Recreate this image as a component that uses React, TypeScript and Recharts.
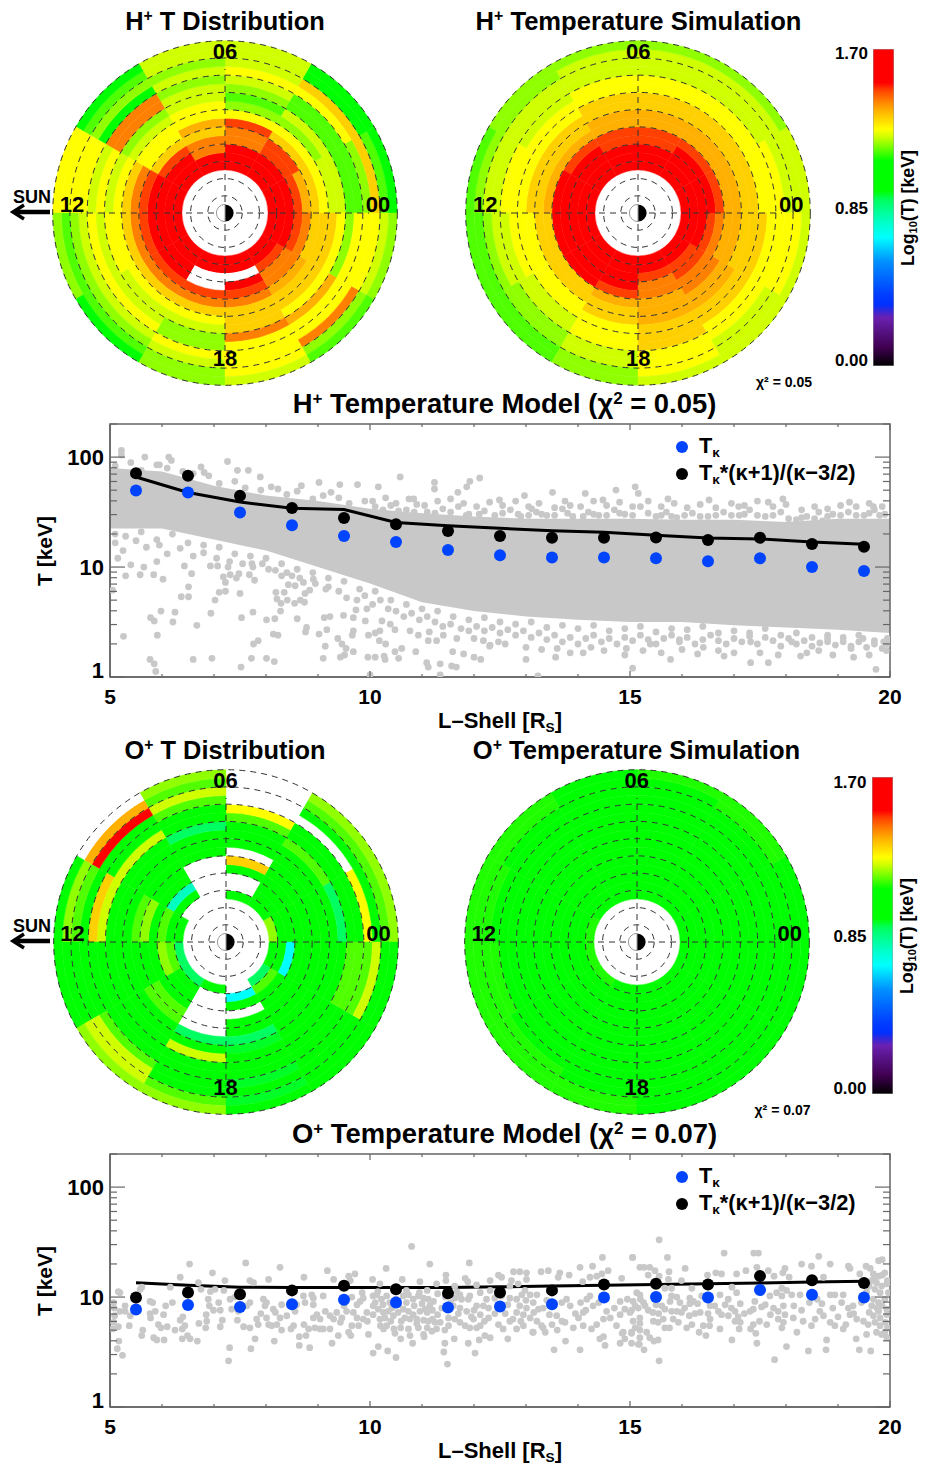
import React from "react";
import { PieChart, Pie, Cell, PolarGrid, ComposedChart, Area, Line, Scatter, XAxis, YAxis, ReferenceArea, BarChart, Bar } from "recharts";

// log10(T) levels
const W = null, C = 0.69, c = 0.78, T = 0.89, t = 0.92, G = 1.0, q = 1.12, g = 1.15, l = 1.19, y = 1.23, Y = 1.27, a = 1.33, o = 1.37, O = 1.42, R = 1.48, r = 1.6;

// one list per 2-hour MLT sector, starting at 00 and running anticlockwise; each list goes L=5 -> L=19
const hDistribution = [
  [r,r,r,R,o,a,Y,y,y,g,g,l,a,g,G],
  [r,r,r,R,R,a,Y,l,y,g,g,Y,a,G,G],
  [r,r,r,O,O,R,Y,l,g,l,y,Y,y,y,y],
  [r,r,O,O,a,o,Y,Y,y,y,l,y,l,y,y],
  [r,r,r,R,a,Y,Y,y,l,O,O,G,l,g,G],
  [r,r,r,r,R,O,a,Y,y,Y,y,Y,Y,Y,Y],
  [r,r,r,r,R,O,a,Y,Y,y,Y,y,l,g,l],
  [r,r,r,r,R,O,a,Y,y,y,Y,y,l,g,G],
  [r,r,W,W,R,O,a,Y,y,l,l,Y,y,l,l],
  [r,r,W,r,R,O,a,a,a,O,Y,Y,Y,Y,y],
  [r,r,R,O,O,o,a,a,Y,o,Y,Y,O,l,g],
  [r,r,r,R,O,a,a,a,Y,l,Y,Y,Y,y,l],
];
const hSimulation = [
  [r,r,r,r,R,o,o,a,a,Y,Y,Y,y,y,y],
  [r,r,r,r,R,o,o,a,a,Y,Y,y,y,y,l],
  [r,r,r,R,R,o,o,a,a,Y,Y,y,y,y,l],
  [r,r,r,R,R,o,o,a,a,Y,Y,y,y,y,l],
  [r,r,r,r,R,o,a,a,Y,Y,y,y,y,l,l],
  [r,r,r,r,r,o,a,a,Y,Y,Y,y,y,l,g],
  [r,r,r,r,r,a,a,Y,Y,Y,y,y,l,g,g],
  [r,r,r,r,r,a,a,Y,Y,y,y,l,l,g,g],
  [r,r,r,r,R,o,a,a,Y,Y,Y,y,y,l,l],
  [r,r,R,O,O,o,o,o,a,a,a,Y,Y,Y,y],
  [r,r,R,R,O,O,o,o,a,a,Y,Y,y,y,y],
  [r,r,r,R,O,o,o,a,a,a,Y,Y,Y,Y,y],
];
const oDistribution = [
  [l,G,G,G,G,G,G,G,T,G,G,Y,G,g,l],
  [G,G,G,G,G,G,G,G,g,G,G,W,G,g,l],
  [G,W,W,G,a,W,G,G,G,g,Y,W,W,W,W],
  [W,W,W,W,W,G,G,G,T,G,G,g,y,g,l],
  [W,G,c,G,G,G,G,G,G,y,G,G,r,o,W],
  [G,G,g,G,l,g,G,G,G,y,a,G,g,l,G],
  [T,g,l,G,G,G,G,G,G,G,G,G,G,G,G],
  [T,G,G,G,g,g,G,G,G,G,G,g,y,y,l],
  [G,W,W,W,W,W,T,G,y,G,G,G,G,g,l],
  [W,C,G,W,G,G,T,t,G,G,G,t,G,t,G],
  [T,g,G,G,G,G,G,G,G,G,G,G,G,G,G],
  [G,G,C,G,G,G,G,G,G,g,g,g,y,G,G],
];
const oSimulation = [
  [G,G,G,G,G,G,G,G,G,G,G,G,G,G,G],
  [G,G,G,G,G,G,G,G,G,G,G,G,G,q,q],
  [G,G,G,G,G,G,G,G,G,G,G,G,G,G,q],
  [G,G,G,G,G,G,G,G,G,G,G,G,G,G,G],
  [G,G,G,G,G,G,G,G,G,G,G,G,G,q,q],
  [q,G,G,G,G,G,G,G,G,G,G,G,q,q,q],
  [q,G,G,G,G,G,G,G,G,G,G,q,q,q,q],
  [q,G,G,G,G,G,G,G,G,G,G,G,q,q,q],
  [G,G,G,G,G,G,G,G,G,G,G,G,G,q,q],
  [G,G,G,G,G,G,G,G,G,G,G,G,G,G,G],
  [G,G,G,G,G,G,G,G,G,G,G,G,G,G,G],
  [G,G,G,G,G,G,G,G,G,G,G,G,G,G,G],
];

const lShells = [5,6,7,8,9,10,11,12,13,14,15,16,17,18,19];
const gridL = [2,4,6,8,10,12,14,16,18,20];
const colorStops: [number,string][] = [[0,"#000000"],[0.1,"#400050"],[0.26,"#6a20b0"],[0.33,"#0030ff"],[0.39,"#0040ff"],[0.56,"#0090ff"],[0.69,"#00ffff"],[0.78,"#00ffc0"],[0.89,"#00ff60"],[0.94,"#00ff00"],[1.1,"#00ff00"],[1.15,"#50ff00"],[1.19,"#90ff00"],[1.23,"#d0ff00"],[1.27,"#ffff00"],[1.33,"#ffd000"],[1.37,"#ffb000"],[1.42,"#ff8000"],[1.48,"#ff4000"],[1.52,"#ff0000"],[1.7,"#ff0000"]];

// scatter clouds, read as [L, log10 T]
const hCloudBandL = [5,6,7,8,9,10,11,12,13,14,15,16,17,18,19,20];
const hCloudBandLow = [1.35,1.35,1.25,1.15,1.0,0.85,0.68,0.6,0.55,0.52,0.5,0.5,0.47,0.45,0.43,0.4];
const hCloudBandHigh = [1.9,1.87,1.74,1.65,1.6,1.53,1.49,1.46,1.44,1.44,1.44,1.43,1.43,1.41,1.44,1.44];
const hUpperFringe = [[5.1,1.92],[5.4,1.95],[5.6,1.88],[5.9,1.93],[6.1,1.9],[6.4,1.87],[6.6,1.85],[6.9,1.83],[7.1,1.76],[7.4,1.78],[7.6,1.72],[7.9,1.7],[8.1,1.73],[8.4,1.66],[8.6,1.69],[8.9,1.62],[9.1,1.65],[9.4,1.63],[9.6,1.58],[9.9,1.6],[10.1,1.55],[10.4,1.56],[10.7,1.52],[10.9,1.57],[11.1,1.5],[11.4,1.53],[11.7,1.55],[11.9,1.48],[12.2,1.51],[12.4,1.47],[12.7,1.52],[12.9,1.46],[13.2,1.5],[13.4,1.47],[13.7,1.53],[13.9,1.46],[14.2,1.5],[14.4,1.47],[14.7,1.52],[14.9,1.48],[15.2,1.55],[15.5,1.46],[15.7,1.5],[15.9,1.45],[16.2,1.49],[16.5,1.46],[16.8,1.5],[17.1,1.47],[17.3,1.52],[17.6,1.46],[17.9,1.5],[18.2,1.43],[18.4,1.46],[18.7,1.42],[18.9,1.48],[19.2,1.5],[19.5,1.47],[19.7,1.52],[19.9,1.48]];
const hUpperSecond = [[10.25,1.52],[10.55,1.51],[10.85,1.5],[11.25,1.49],[11.55,1.5],[11.85,1.47],[12.1,1.48],[12.55,1.49],[12.85,1.48],[13.05,1.47],[13.3,1.48],[13.55,1.47],[13.8,1.49],[14.1,1.46],[14.3,1.48],[14.55,1.47],[14.8,1.49],[15.05,1.47],[15.35,1.49],[15.6,1.47],[15.8,1.46],[16.05,1.47],[16.35,1.46],[16.65,1.47],[16.95,1.47],[17.2,1.48],[17.45,1.47],[17.75,1.47],[18.05,1.44],[18.3,1.45],[18.55,1.44],[18.8,1.46],[19.05,1.47],[19.35,1.47],[19.6,1.49],[19.8,1.47]];
const hUpperScatter = [[10.05,1.6],[10.3,1.63],[10.5,1.58],[10.75,1.62],[11.05,1.56],[11.3,1.6],[11.55,1.62],[11.8,1.58],[12.05,1.55],[12.3,1.59],[12.55,1.56],[12.8,1.6],[13.05,1.55],[13.25,1.58],[13.55,1.54],[13.75,1.6],[14.05,1.55],[14.3,1.6],[14.55,1.56],[14.8,1.59],[15.05,1.55],[15.35,1.6],[15.6,1.55],[15.85,1.58],[16.1,1.54],[16.35,1.57],[16.65,1.54],[16.95,1.58],[17.2,1.56],[17.45,1.6],[17.75,1.55],[18,1.57],[18.3,1.52],[18.55,1.55],[18.8,1.53],[19.05,1.56],[19.35,1.55],[19.6,1.58],[19.85,1.55]];
const hLowerFringe = [[5.1,1.3],[5.3,1.28],[5.6,1.32],[5.9,1.25],[6.2,1.3],[6.5,1.22],[6.8,1.2],[7.1,1.18],[7.4,1.12],[7.7,1.1],[8,1.08],[8.3,1.03],[8.6,0.98],[8.9,0.95],[9.2,0.9],[9.5,0.87],[9.8,0.8],[10.1,0.78],[10.4,0.7],[10.7,0.66],[11,0.62],[11.3,0.6],[11.6,0.55],[11.9,0.52],[12.2,0.54],[12.5,0.5],[12.8,0.48],[13.1,0.5],[13.4,0.45],[13.7,0.47],[14,0.44],[14.3,0.47],[14.6,0.42],[14.9,0.44],[15.2,0.46],[15.5,0.41],[15.8,0.44],[16.1,0.43],[16.4,0.46],[16.7,0.4],[17,0.42],[17.3,0.4],[17.6,0.44],[17.9,0.38],[18.2,0.4],[18.5,0.36],[18.8,0.38],[19.1,0.36],[19.4,0.38],[19.7,0.33],[19.95,0.35]];
const hLowerScatter = [[9.2,0.82],[9.4,0.78],[9.55,0.72],[9.75,0.7],[9.9,0.74],[10.05,0.66],[10.2,0.7],[10.35,0.62],[10.5,0.6],[10.65,0.55],[10.8,0.58],[10.95,0.52],[11.1,0.55],[11.25,0.5],[11.4,0.46],[11.55,0.48],[11.75,0.44],[11.9,0.42],[12.05,0.46],[12.2,0.42],[12.35,0.45],[12.5,0.4],[12.65,0.43],[12.8,0.38],[12.95,0.42],[13.1,0.36],[13.25,0.4],[13.4,0.34],[13.55,0.38],[13.7,0.32],[13.85,0.36],[14,0.3],[14.15,0.35],[14.3,0.38],[14.45,0.32],[14.6,0.35],[14.75,0.3],[14.9,0.36],[15.05,0.33],[15.2,0.38],[15.35,0.34],[15.5,0.3],[15.65,0.35],[15.8,0.38],[15.95,0.34],[16.1,0.36],[16.25,0.3],[16.4,0.34],[16.55,0.38],[16.7,0.33],[16.85,0.3],[17,0.35],[17.15,0.32],[17.3,0.37],[17.45,0.3],[17.6,0.36],[17.75,0.33],[17.9,0.28],[18.05,0.35],[18.2,0.3],[18.35,0.33],[18.5,0.28],[18.65,0.31],[18.8,0.35],[18.95,0.29],[19.1,0.32],[19.25,0.28],[19.4,0.32],[19.55,0.27],[19.7,0.3],[19.85,0.26],[19.95,0.3],[12.3,0.28],[12.6,0.3],[13,0.27],[13.3,0.25],[13.6,0.26],[14.1,0.22],[14.5,0.24],[14.9,0.2],[15.25,0.24],[15.6,0.22],[16,0.25],[16.3,0.21],[16.7,0.24],[17,0.22],[17.5,0.22],[17.85,0.2],[18.4,0.22],[18.9,0.2],[19.3,0.18],[19.6,0.2]];
const hLeftScatter = [[5.1,1.22],[5.25,1.15],[5.5,1.24],[5.7,1.18],[5.95,1.2],[6.1,1.12],[6.35,1.17],[6.6,1.1],[6.8,1.13],[7.05,1.08],[7.3,1.05],[7.55,1.03],[7.75,1.0],[8.05,0.98],[8.4,0.95],[8.65,0.9],[8.95,0.85],[9.15,0.8],[5.15,1.08],[5.4,1.02],[5.65,1.0],[5.9,1.05]];
const hOutliersLow = [[5.3,0.92],[5.58,0.93],[5.84,0.93],[6.02,0.89],[6.43,1.01],[6.57,0.94],[6.51,0.82],[6.37,0.73],[6.51,0.73],[5.05,0.79],[5.98,0.6],[6.25,0.59],[5.78,0.54],[5.85,0.51],[6.21,0.5],[6.67,0.47],[5.26,0.37],[5.91,0.38],[5.77,0.16],[5.85,0.12],[5.88,0.05],[6.6,0.16],[6.96,0.17],[7.52,0.09],[7.72,0.17],[8.01,0.17],[8.16,0.14],[6.94,0.58],[7.02,0.7],[7.1,0.77],[7.22,0.78],[7.22,0.86],[7.18,0.91],[7.31,0.93],[7.43,0.9],[7.48,0.94],[7.68,0.93],[7.78,0.88],[7.5,0.76],[6.93,1.01],[7.07,1.01],[7.27,1.0],[7.73,1.03],[7.93,1.03],[7.53,0.54],[7.75,0.59],[8.01,0.52],[8.17,0.53],[8.28,0.6],[8.6,0.53],[7.76,0.3],[7.85,0.33],[8.14,0.39],[8.23,0.38],[8.78,0.45],[8.76,0.41],[9.02,0.39],[9.17,0.43],[8.19,0.77],[8.35,0.77],[8.21,0.71],[8.29,0.67],[8.41,0.7],[8.55,0.67],[8.66,0.7],[8.74,0.68],[8.84,0.79],[8.75,0.76],[8.56,0.83],[8.43,0.84],[8.18,0.97],[8.3,0.92],[8.5,0.92],[8.72,0.86],[8.91,0.89],[9.12,0.54],[9.23,0.55],[9.49,0.56],[9.68,0.54],[9.73,0.61],[9.94,0.62],[9.91,0.51],[10.23,0.51],[10.39,0.48],[10.48,0.43],[10.19,0.42],[10.1,0.4],[9.97,0.38],[9.68,0.42],[9.66,0.38],[9.38,0.35],[9.46,0.3],[9.54,0.26],[9.14,0.28],[9.68,0.23],[9.1,0.17],[9.43,0.18],[9.51,0.2],[9.96,0.18],[10.1,0.18],[10.27,0.19],[10.29,0.16],[10.48,0.23],[10.55,0.17],[10.61,0.26],[10.88,0.23],[10,0.02],[10.18,0.33],[10.3,0.3],[11.09,0.13],[11.12,0.09],[11.35,0.12],[11.57,0.1],[11.66,0.09],[11.8,0.21],[11.59,0.23],[12,0.18],[12.13,0.16],[11.35,0.02],[11.12,0.33],[11.28,0.33],[11.41,0.38],[11.67,0.35],[12,0.35],[12.31,0.29],[12.47,0.32],[12.18,0.33],[10.93,0.38],[10.77,0.42],[11.14,0.41]];
const hOutliersHigh = [[5.22,2.06],[5.22,2.02],[6.13,2.0],[6.18,1.97],[5.67,2.0],[5.95,1.93],[6.75,1.91],[7.26,1.96],[7.45,1.88],[6.81,1.86],[6.52,1.84],[7.66,1.88],[7.89,1.82],[8.23,1.71],[8.68,1.74],[9.02,1.77],[9.42,1.75],[9.76,1.75],[10.16,1.73],[10.58,1.82],[11.24,1.77],[11.69,1.68],[11.92,1.78],[12.11,1.81],[11.86,1.73],[11.24,1.71],[12.49,1.61],[12.97,1.65],[13.51,1.68],[14.14,1.67],[14.73,1.7],[15.1,1.73],[15.16,1.67],[15.73,1.62],[16.52,1.61],[17.66,1.59],[17.94,1.62],[19.22,1.59],[19.68,1.55],[18.63,1.5],[17.09,1.55],[14.48,1.61],[13.85,1.56],[13.11,1.53],[10.84,1.62],[9.25,1.68]];
const hOutliersRight = [[15.05,0.08],[19.73,0.07],[13.23,0.01],[17.66,0.13],[17.32,0.13],[18.28,0.19],[18.63,0.24],[19.93,0.24],[19.25,0.26],[16.81,0.19],[15.78,0.16],[13,0.16],[13.57,0.18],[13.85,0.22],[14.25,0.27],[15.39,0.3],[16.41,0.27],[17.32,0.32],[18.11,0.32],[18.8,0.32],[19.48,0.35],[19.88,0.32],[14.93,0.26],[15.95,0.32]];

const oCloudInner = [[6.35,1.18],[6.97,1.22],[7.21,1.15],[6.53,1.3],[7.61,1.31],[8.27,1.27],[8.05,1.16],[7.69,1.15],[7.76,1.13],[8.73,1.18],[9.18,1.24],[9.3,1.16],[9.59,1.19],[9.71,1.21],[9.62,1.15],[6.7,1.13],[6.16,1.09],[6.93,1.05],[7.02,1.07],[7.19,1.06],[6.75,1.07],[5.16,1.05],[5.19,1.04],[5.61,1.09],[5.58,1.07],[5.77,0.96],[5.82,0.95],[5.29,0.92],[5.07,0.95],[5.08,0.9],[6.07,0.92],[6.03,0.84],[5.87,0.87],[5.77,0.85],[5.78,0.81],[5.39,0.83],[5.19,0.87],[5.29,0.87],[5.09,0.83],[5.07,0.77],[5.05,0.71],[5.16,0.73],[5.37,0.74],[5.63,0.7],[5.61,0.65],[5.93,0.75],[5.98,0.72],[6.1,0.73],[6.25,0.7],[6.39,0.71],[6.44,0.74],[6.35,0.79],[6.4,0.82],[6.71,0.76],[6.86,0.78],[6.85,0.84],[6.84,0.72],[7.16,0.79],[7.12,0.73],[7.45,0.79],[7.57,0.73],[7.69,0.72],[5.84,0.63],[5.9,0.61],[6.04,0.61],[6.39,0.62],[6.49,0.65],[6.54,0.62],[6.68,0.6],[5.17,0.6],[5.14,0.53],[5.24,0.47],[7.3,0.54],[7.71,0.53],[7.79,0.62],[8.16,0.6],[7.28,0.42],[8.64,0.64],[8.77,0.65],[8.64,0.56],[8.84,0.54],[9.27,0.58],[9.39,0.65],[9.59,0.68],[9.63,0.65],[6.89,0.98],[6.91,0.92],[6.99,0.88],[7.12,0.88],[7.09,0.95],[7.31,0.98],[7.34,0.89],[7.47,0.87],[7.69,0.95],[7.63,0.92],[7.95,0.98],[8.01,0.95],[7.98,0.92],[8.14,0.89],[8.18,0.86],[8.27,0.81],[8.4,0.83],[8.3,0.93],[7.82,0.8],[7.9,0.85],[7.85,0.75],[8.01,0.81],[8.05,0.75],[8.11,0.74],[8.21,0.75],[8.48,0.71],[8.53,0.74],[8.73,0.75],[8.82,0.71],[8.94,0.72],[9.04,0.71],[9.1,0.71],[9.23,0.71],[8.91,0.81],[8.98,0.84],[9.04,0.8],[9.14,0.87],[9.23,0.83],[9.36,0.86],[9.46,0.81],[9.3,0.8],[9.43,0.77],[8.91,0.93],[8.91,0.99],[8.88,1.02],[9.1,1.01],[8.72,1.01],[8.75,0.95],[8.59,0.93],[8.56,0.87],[9.65,0.74],[9.68,0.86],[9.75,0.93],[9.81,0.96],[9.87,0.99],[9.75,0.81],[9.94,0.86],[9.97,0.66],[9.87,0.8]];
const oCloudMiddle = [[10.8,1.46],[10.31,1.26],[11.15,1.3],[11.91,1.31],[14.47,1.36],[15.05,1.36],[14.04,1.27],[14.28,1.28],[14.58,1.24],[14.46,1.21],[14.36,1.19],[14.23,1.18],[13.01,1.22],[12.76,1.23],[12.47,1.2],[12.88,1.23],[13.29,1.23],[13.43,1.24],[13.65,1.22],[13.83,1.2],[13.01,1.16],[12.72,1.15],[12.31,1.15],[12.53,1.18],[11.83,1.17],[11.88,1.14],[11.46,1.2],[11.46,1.15],[10.96,1.14],[10.62,1.16],[10.19,1.12],[10.05,1.16],[11.28,1.12],[11.63,1.1],[12.05,1.11],[14.84,1.17],[14.09,1.14],[13.62,1.18],[12.85,1.12],[12.98,1.06],[12.69,1.1],[12.31,1.06],[10.06,1.01],[10.13,1.02],[10.22,0.98],[10.32,1.01],[10.38,0.95],[10.64,1.01],[10.74,1.02],[10.83,0.98],[10.93,1.01],[11.03,0.99],[11.12,0.98],[11.22,0.96],[10.06,0.92],[10.16,0.89],[10.26,0.86],[10.35,0.87],[10.45,0.83],[10.54,0.86],[10.64,0.89],[10.74,0.87],[10.83,0.84],[10.96,0.87],[11.06,0.89],[11.15,0.92],[10.06,0.84],[10.19,0.8],[10.29,0.81],[10.67,0.81],[10.77,0.8],[10.9,0.8],[11.03,0.79],[11.12,0.78],[11.25,0.77],[11.35,0.77],[11.51,0.81],[11.63,0.8],[11.73,0.77],[11.83,0.74],[11.92,0.72],[12.05,0.72],[12.12,0.74],[10.26,0.71],[10.32,0.74],[10.46,0.71],[10.59,0.72],[10.74,0.71],[10.93,0.72],[11.03,0.66],[11.19,0.69],[11.28,0.71],[11.44,0.7],[11.51,0.74],[10.48,0.67],[10.59,0.62],[10.77,0.65],[10.82,0.58],[11.04,0.64],[11.63,0.99],[11.76,0.98],[11.89,0.98],[11.6,0.92],[11.73,0.9],[11.86,0.87],[12.05,0.92],[12.18,0.92],[12.28,0.9],[12.24,0.98],[12.4,0.99],[12.53,1.01],[12.69,0.99],[12.82,0.98],[12.92,1.02],[13.08,1.02],[13.21,1.02],[12.12,1.04],[11.92,1.01],[11.67,1.05],[11.73,1.02],[12.88,0.92],[13.01,0.9],[13.14,0.95],[13.24,0.89],[13.33,0.9],[12.82,0.86],[12.95,0.84],[13.08,0.81],[13.21,0.78],[13.3,0.74],[12.69,0.78],[12.56,0.71],[12.47,0.75],[12.82,0.71],[12.95,0.74],[13.14,0.68],[13.33,0.72],[13.37,0.68],[12.28,0.81],[12.12,0.84],[11.99,0.8],[13.59,0.83],[13.69,0.78],[13.75,0.77],[13.91,0.72],[14.1,0.74],[14.26,0.71],[14.36,0.75],[14.49,0.8],[14.62,0.81],[13.78,0.98],[13.85,0.92],[13.69,0.95],[14.17,0.98],[14.23,1.01],[14.29,0.92],[14.1,0.86],[14.01,0.81],[14.81,0.96],[14.9,0.89],[14.81,0.84],[15,0.86],[15.1,0.92],[14.74,0.74],[14.87,0.68],[15.03,0.68],[15.1,0.72],[10.16,0.55],[10.06,0.49],[10.34,0.51],[10.5,0.45],[11.44,0.58],[11.42,0.5],[11.62,0.62],[11.49,0.39],[12.02,0.49],[11.89,0.58],[12.1,0.61],[12.31,0.63],[12.21,0.65],[12.65,0.62],[13.13,0.68],[13.54,0.52],[13.76,0.6],[14.04,0.52],[14.52,0.56],[14.49,0.64],[14.42,0.62],[14.81,0.58],[14.9,0.62],[15.03,0.58],[15.16,0.57],[14.85,0.67]];
const oCloudOuter = [[15.56,1.52],[15.05,1.36],[15.72,1.36],[16.81,1.4],[17.38,1.4],[17.47,1.4],[18.63,1.37],[18.3,1.3],[18.49,1.28],[18.85,1.3],[19.2,1.28],[19.54,1.28],[19.78,1.33],[19.85,1.34],[15.19,1.27],[15.27,1.27],[15.38,1.27],[15.48,1.24],[15.35,1.2],[15.56,1.19],[15.75,1.23],[15.74,1.16],[16.06,1.26],[15.99,1.15],[16.49,1.2],[16.65,1.22],[16.76,1.21],[17.05,1.21],[17.23,1.24],[17.44,1.27],[17.47,1.21],[17.66,1.24],[17.77,1.19],[17.98,1.26],[17.94,1.22],[18.06,1.18],[18.72,1.18],[19.23,1.26],[19.62,1.26],[19.42,1.21],[15.67,1.08],[15.8,1.08],[16.19,1.08],[16.96,1.09],[17.92,1.08],[18.01,1.06],[15.13,1.04],[15.19,1.02],[15.06,0.96],[15.26,0.95],[15.16,0.9],[15.03,0.88],[15.29,0.92],[15.44,0.86],[15.61,0.92],[15.67,0.89],[15.8,1.01],[15.9,1.0],[15.96,0.95],[15.9,0.87],[15.99,0.86],[15.77,0.96],[16.15,0.99],[16.22,0.96],[16.15,0.94],[16.38,1.01],[16.54,0.92],[16.63,0.92],[16.35,0.86],[16.25,0.85],[16.14,0.83],[16.73,1.02],[16.89,0.98],[16.83,0.93],[17.02,0.87],[17.12,0.94],[17.05,1.04],[17.37,0.89],[17.53,0.91],[17.31,0.87],[17.69,1.01],[17.82,1.04],[17.92,1.01],[18.11,1.02],[17.76,0.9],[17.85,0.87],[17.95,0.92],[17.98,0.84],[17.85,0.8],[17.95,0.77],[18.14,0.81],[18.27,1.02],[18.69,0.94],[18.65,0.87],[18.72,0.83],[18.56,0.8],[18.85,1.02],[18.94,1.02],[19.1,1.02],[19.07,0.95],[19.2,0.9],[19.29,0.92],[19.23,0.84],[19.36,0.8],[19.49,0.78],[19.68,1.21],[19.78,1.19],[19.9,1.22],[19.65,1.15],[19.74,1.13],[19.84,1.1],[19.94,1.12],[19.71,1.07],[19.81,1.04],[19.97,1.04],[19.68,0.98],[19.78,0.95],[19.9,0.98],[19.65,0.92],[19.78,0.87],[19.94,0.89],[19.68,0.83],[19.81,0.81],[19.94,0.84],[19.71,0.77],[19.81,0.74],[19.91,0.77],[19.74,0.68],[19.84,0.66],[19.94,0.63],[19.55,0.66],[15.19,0.81],[15.06,0.78],[15.19,0.76],[15.45,0.78],[15.54,0.77],[15.67,0.72],[15.76,0.72],[15.64,0.8],[15.83,0.8],[15.93,0.77],[16.09,0.72],[16.19,0.75],[16.41,0.74],[16.53,0.74],[16.54,0.8],[16.73,0.71],[16.76,0.84],[16.89,0.83],[17.02,0.78],[17.08,0.82],[17.12,0.77],[17.1,0.71],[17.32,0.71],[17.37,0.75],[17.49,0.78],[17.63,0.75],[17.92,0.72],[18.33,0.78],[18.49,0.74],[18.85,0.77],[18.94,0.74],[19.1,0.71],[15.03,0.67],[15.19,0.7],[15.32,0.68],[15.19,0.63],[15.38,0.63],[15.46,0.6],[15.54,0.61],[15.18,0.57],[15.27,0.52],[15.56,0.42],[16.33,0.68],[16.46,0.65],[16.96,0.61],[17.42,0.67],[17.44,0.58],[18.21,0.68],[18.01,0.55],[17.78,0.43],[18.43,0.51],[18.78,0.61],[18.77,0.52],[19.35,0.62],[19.41,0.52],[19.63,0.51]];
const oCloudExtra = [[10.1,0.95],[10.25,0.93],[10.42,0.9],[10.5,0.98],[10.55,0.93],[10.7,0.95],[10.85,0.92],[11,0.94],[11.1,0.86],[11.2,0.88],[11.3,0.84],[11.38,0.9],[10.4,0.78],[10.6,0.78],[10.9,0.76],[11.1,0.72],[11.2,0.8],[10.2,0.74],[10.15,1.05],[10.45,1.08],[10.7,1.06],[10.95,1.04],[11.1,1.06],[11.3,1.03],[11.45,1.0],[11.55,0.95],[11.7,0.85],[11.95,0.82],[12,0.88],[12.2,0.78],[12.4,0.85],[12.5,0.92],[12.6,0.85],[12.65,0.93],[12.75,0.8],[12.9,0.78],[13,0.97],[13.15,0.86],[13.4,0.97],[13.45,0.84],[13.5,0.75],[13.6,0.7],[13.95,0.85],[14.05,0.95],[14.15,0.88],[14.4,0.95],[14.55,0.87],[14.7,0.9],[14.95,0.98],[15.2,0.98],[15.35,0.88],[15.5,0.93],[15.55,0.85],[15.8,0.87],[16.05,0.9],[16.3,0.94],[16.5,0.85],[16.7,0.87],[16.95,0.9],[17.2,0.85],[17.4,0.96],[17.6,0.93],[17.7,0.84],[18.15,0.92],[18.3,0.88],[18.45,0.95],[18.6,0.98],[18.9,0.9],[19,0.82],[19.15,0.75],[19.3,0.85],[19.45,0.95],[19.55,1.05],[19.6,0.86],[19.58,0.75],[19.75,0.9],[19.85,0.92],[19.6,1.1],[19.95,1.15],[19.85,1.2],[19.7,1.17],[19.95,0.72],[19.9,0.68],[8.3,0.7],[7.4,1.0],[6.2,0.95],[5.5,0.98],[9.5,0.92],[9.65,1.0],[9.85,1.04],[9.55,0.87],[9.95,0.78],[9.78,0.74]];

const binCentres = [5.5,6.5,7.5,8.5,9.5,10.5,11.5,12.5,13.5,14.5,15.5,16.5,17.5,18.5,19.5];
const hKappa = [49.7,47.6,31.3,24,19.2,16.9,14.3,12.8,12.2,12.2,12,11.3,12,10,9.2];
const hScaled = [71.4,67.6,44.4,34.5,28,24.5,21.3,19.2,18.5,18.5,18.6,17.6,18.5,16.2,15.3];
const hModel = [66,47.6,39,34.3,33.3,25.4,23.7,22.5,21.4,20.7,19.5,18.4,18,16.9,16.1];
const oKappa = [7.7,8.45,8.1,8.6,9.45,8.9,8.05,8.2,8.6,9.9,10,9.9,11.6,10.5,9.9];
const oScaled = [9.9,11,10.6,11.5,12.7,11.8,10.8,11,11.5,13,13.2,13,15.5,14.2,13.4];
const oModel = [13.5,12.8,12.3,12.2,12.2,12.2,12.2,12.4,12.6,12.8,13,13.2,13.4,13.7,13.9];

const xTicks = [5,6,7,8,9,10,11,12,13,14,15,16,17,18,19,20];
const yTicks = [1,2,3,4,5,6,7,8,9,10,20,30,40,50,60,70,80,90,100,200];

const FONT = "'Liberation Sans', Arial, sans-serif";
const R_OUT = 172.3;
const rOf = (L: number) => (R_OUT * L) / 20;

function hexToRgb(h: string) { return [1,3,5].map((i) => parseInt(h.slice(i, i + 2), 16)); }
function colorOf(v: number | null) {
  if (v === null) return "#ffffff";
  for (let i = 1; i < colorStops.length; i++) {
    const [v1, c1] = colorStops[i];
    if (v <= v1) {
      const [v0, c0] = colorStops[i - 1];
      const f = (v - v0) / (v1 - v0);
      const a0 = hexToRgb(c0), a1 = hexToRgb(c1);
      return `rgb(${a0.map((x, k) => Math.round(x + (a1[k] - x) * f)).join(",")})`;
    }
  }
  return "#ff0000";
}

function Txt({ x, y, size, rotate, align, children }: any) {
  const tx = align === "right" ? "-100%" : align === "left" ? "0" : "-50%";
  return (
    <div style={{ position: "absolute", left: x, top: y, transform: `translate(${tx},-50%)${rotate ? ` rotate(${rotate}deg)` : ""}`, fontFamily: FONT, fontWeight: 700, fontSize: size, lineHeight: 1, whiteSpace: "nowrap", color: "#000", zIndex: 5 }}>
      {children}
    </div>
  );
}
const Sup = ({ children }: any) => <span style={{ fontSize: "62%", position: "relative", top: "-0.55em" }}>{children}</span>;
const Sub = ({ children }: any) => <span style={{ fontSize: "62%", position: "relative", top: "0.3em" }}>{children}</span>;

const planetData = [{ name: "night", share: 1 }, { name: "day", share: 1 }];

function PolarMap({ cx, cy, sectors }: { cx: number; cy: number; sectors: (number | null)[][] }) {
  const size = 360, mid = 180;
  return (
    <>
      <div style={{ position: "absolute", left: cx - mid, top: cy - mid }}>
        <PieChart width={size} height={size} margin={{ top: 0, right: 0, bottom: 0, left: 0 }}>
          {lShells.map((L, i) => (
            <Pie key={L} data={sectors.map((s, k) => ({ sector: k, hours: 2, logT: s[i] }))} dataKey="hours" nameKey="sector" cx={mid} cy={mid} innerRadius={rOf(L)} outerRadius={rOf(L + 1)} startAngle={0} endAngle={360} stroke="none" isAnimationActive={false} labelLine={false} label={false}>
              {sectors.map((s, k) => (
                <Cell key={k} fill={colorOf(s[i])} stroke={s[i] === null ? "none" : colorOf(s[i])} strokeWidth={0.4} />
              ))}
            </Pie>
          ))}
        </PieChart>
      </div>
      <div style={{ position: "absolute", left: cx - mid, top: cy - mid, zIndex: 2 }}>
        <PieChart width={size} height={size} margin={{ top: 0, right: 0, bottom: 0, left: 0 }}>
          <PolarGrid cx={mid} cy={mid} innerRadius={rOf(1)} outerRadius={R_OUT} gridType="circle" polarRadius={gridL.map(rOf)} polarAngles={[0, 90, 180, 270]} stroke="#333" strokeWidth={1} strokeDasharray="6 5" fill="none" />
          <Pie data={planetData} dataKey="share" nameKey="name" cx={mid} cy={mid} innerRadius={0} outerRadius={rOf(1)} startAngle={-90} endAngle={270} isAnimationActive={false} labelLine={false} label={false}>
            <Cell fill="#000" stroke="none" />
            <Cell fill="#fff" stroke="#999" strokeWidth={1} />
          </Pie>
        </PieChart>
      </div>
    </>
  );
}

function ClockLabels({ cx, cy }: { cx: number; cy: number }) {
  return (
    <>
      <Txt x={cx} y={cy - 160.5} size={22}>06</Txt>
      <Txt x={cx - 153} y={cy - 7.5} size={22}>12</Txt>
      <Txt x={cx + 153} y={cy - 7.5} size={22}>00</Txt>
      <Txt x={cx} y={cy + 146} size={22}>18</Txt>
    </>
  );
}

function ColorBar({ left, top, values }: { left: number; top: number; values: string }) {
  const data = [{ name: "Log10(T)", span: 1.7 }];
  return (
    <>
      <div style={{ position: "absolute", left, top }}>
        <BarChart width={21} height={317} data={data} margin={{ top: 0, right: 0, bottom: 0, left: 0 }} barCategoryGap={0}>
          <defs>
            <linearGradient id={`cb${top}`} x1="0" y1="0" x2="0" y2="1">
              {colorStops.slice().reverse().map(([v, col]) => (
                <stop key={v} offset={(1.7 - v) / 1.7} stopColor={col} />
              ))}
            </linearGradient>
          </defs>
          <XAxis dataKey="name" hide />
          <YAxis domain={[0, 1.7]} hide />
          <Bar dataKey="span" fill={`url(#cb${top})`} stroke="#999" strokeWidth={1} isAnimationActive={false} />
        </BarChart>
      </div>
      <Txt x={left - 5} y={top + 4.5} size={17} align="right">1.70</Txt>
      <Txt x={left - 5} y={top + 159} size={17} align="right">0.85</Txt>
      <Txt x={left - 5} y={top + 311} size={17} align="right">0.00</Txt>
      <Txt x={left + 36} y={top + 159} size={17.8} rotate={-90}>Log<Sub>10</Sub>(T) [keV]</Txt>
      <Txt x={left - 89} y={top + 333} size={14}>{values}</Txt>
    </>
  );
}

const PLOT_TOP = 10, PLOT_H = 253, AXIS = "#666";
const XTick = ({ x, payload }: any) => {
  const major = payload.value % 5 === 0;
  const len = major ? 6 : 3;
  const bot = PLOT_TOP + PLOT_H;
  return (
    <g>
      <line x1={x} x2={x} y1={bot} y2={bot - len} stroke={AXIS} strokeWidth={1.2} />
      <line x1={x} x2={x} y1={PLOT_TOP} y2={PLOT_TOP + len} stroke={AXIS} strokeWidth={1.2} />
      {major && <text x={x} y={bot + 27} textAnchor="middle" fontFamily={FONT} fontWeight={700} fontSize={21} fill="#000">{payload.value}</text>}
    </g>
  );
};
const YTick = ({ y, payload }: any) => {
  const major = [1, 10, 100].includes(payload.value);
  const len = major ? 15 : 7;
  const labelY = payload.value === 1 ? y + 1 : y + 8;
  return (
    <g>
      <line x1={110} x2={110 + len} y1={y} y2={y} stroke={AXIS} strokeWidth={1.2} />
      <line x1={890 - len} x2={890} y1={y} y2={y} stroke={AXIS} strokeWidth={1.2} />
      {major && <text x={104} y={labelY} textAnchor="end" fontFamily={FONT} fontWeight={700} fontSize={22} fill="#000">{payload.value}</text>}
    </g>
  );
};
const dot = (radius: number, fill: string) => (p: any) => <circle cx={p.cx} cy={p.cy} r={radius} fill={fill} />;
const toPoints = (pairs: number[][]) => pairs.map(([L, lt]) => ({ L, T: Math.pow(10, lt) }));
const toSeries = (vals: number[]) => vals.map((v, i) => ({ L: binCentres[i], T: v }));

function TemperaturePanel({ top, cloud, band, kappa, scaled, model }: any) {
  return (
    <div style={{ position: "absolute", left: 0, top: top - PLOT_TOP }}>
      <ComposedChart width={926} height={PLOT_TOP + PLOT_H + 40} margin={{ top: PLOT_TOP, right: 36, bottom: 0, left: 0 }}>
        <XAxis dataKey="L" type="number" domain={[5, 20]} ticks={xTicks} interval={0} height={40} tick={<XTick />} tickLine={false} axisLine={{ stroke: AXIS, strokeWidth: 1.5 }} allowDataOverflow />
        <YAxis type="number" scale="log" domain={[1, 200]} ticks={yTicks} interval={0} width={110} tick={<YTick />} tickLine={false} axisLine={{ stroke: AXIS, strokeWidth: 1.5 }} allowDataOverflow />
        {band && <Area data={band} dataKey="range" stroke="none" fill="#c8c8c8" fillOpacity={1} isAnimationActive={false} dot={false} activeDot={false} />}
        <Scatter data={cloud} dataKey="T" shape={dot(3.4, "#c8c8c8")} isAnimationActive={false} />
        <Line data={toSeries(model)} dataKey="T" stroke="#000" strokeWidth={3} dot={false} activeDot={false} isAnimationActive={false} />
        <Scatter data={toSeries(kappa)} dataKey="T" shape={dot(6, "#0044ff")} isAnimationActive={false} />
        <Scatter data={toSeries(scaled)} dataKey="T" shape={dot(6, "#000")} isAnimationActive={false} />
        <ReferenceArea x1={5} x2={20} y1={1} y2={200} fill="none" stroke={AXIS} strokeWidth={1.5} />
      </ComposedChart>
    </div>
  );
}

function Legend({ top }: { top: number }) {
  return (
    <>
      <svg width={14} height={40} style={{ position: "absolute", left: 675, top: top - 7, overflow: "visible", zIndex: 5 }}>
        <circle cx={7} cy={7} r={6} fill="#0044ff" />
        <circle cx={7} cy={34} r={6} fill="#000" />
      </svg>
      <Txt x={699} y={top - 1} size={21.8} align="left">T<Sub>κ</Sub></Txt>
      <Txt x={699} y={top + 26} size={21.8} align="left">T<Sub>κ</Sub>*(κ+1)/(κ−3/2)</Txt>
    </>
  );
}

function SunArrow({ y }: { y: number }) {
  return (
    <>
      <Txt x={32} y={y - 15} size={18}>SUN</Txt>
      <svg width={44} height={20} style={{ position: "absolute", left: 10, top: y - 10, overflow: "visible", zIndex: 5 }}>
        <line x1={40} y1={10} x2={4} y2={10} stroke="#000" strokeWidth={4.5} />
        <polyline points="14,3 3,10 14,17" fill="none" stroke="#000" strokeWidth={3.5} />
      </svg>
    </>
  );
}

const hBand = hCloudBandL.map((L, i) => ({ L, range: [Math.pow(10, hCloudBandLow[i]), Math.pow(10, hCloudBandHigh[i])] }));
const hCloud = toPoints([...hUpperFringe, ...hUpperSecond, ...hUpperScatter, ...hLowerFringe, ...hLowerScatter, ...hLeftScatter, ...hOutliersLow, ...hOutliersHigh, ...hOutliersRight]);
const oCloud = toPoints([...oCloudInner, ...oCloudMiddle, ...oCloudOuter, ...oCloudExtra]);

export default function App() {
  return (
    <div style={{ position: "absolute", left: 0, top: 0, width: 926, height: 1466, background: "#fff", overflow: "hidden" }}>
      <Txt x={225} y={22} size={25.4}>H<Sup>+</Sup> T Distribution</Txt>
      <Txt x={638.5} y={22} size={25.6}>H<Sup>+</Sup> Temperature Simulation</Txt>
      <PolarMap cx={225} cy={212.7} sectors={hDistribution} />
      <PolarMap cx={638.3} cy={212.7} sectors={hSimulation} />
      <ClockLabels cx={225} cy={212.7} />
      <ClockLabels cx={638.3} cy={212.7} />
      <SunArrow y={212} />
      <ColorBar left={873} top={48.5} values="χ² = 0.05" />
      <Txt x={504.5} y={404} size={27.4}>H<Sup>+</Sup> Temperature Model (χ<Sup>2</Sup> = 0.05)</Txt>
      <TemperaturePanel top={424} cloud={hCloud} band={hBand} kappa={hKappa} scaled={hScaled} model={hModel} />
      <Legend top={447} />
      <Txt x={44} y={551} size={21} rotate={-90}>T [keV]</Txt>
      <Txt x={500} y={721} size={22}>L–Shell [R<Sub>S</Sub>]</Txt>

      <Txt x={225} y={750.5} size={25.4}>O<Sup>+</Sup> T Distribution</Txt>
      <Txt x={636.5} y={750.5} size={25.6}>O<Sup>+</Sup> Temperature Simulation</Txt>
      <PolarMap cx={225.5} cy={941.7} sectors={oDistribution} />
      <PolarMap cx={636.7} cy={941.7} sectors={oSimulation} />
      <ClockLabels cx={225.5} cy={941.7} />
      <ClockLabels cx={636.7} cy={941.7} />
      <SunArrow y={941} />
      <ColorBar left={871.5} top={777} values="χ² = 0.07" />
      <Txt x={504.5} y={1134} size={27.4}>O<Sup>+</Sup> Temperature Model (χ<Sup>2</Sup> = 0.07)</Txt>
      <TemperaturePanel top={1153.5} cloud={oCloud} kappa={oKappa} scaled={oScaled} model={oModel} />
      <Legend top={1177} />
      <Txt x={44} y={1281} size={21} rotate={-90}>T [keV]</Txt>
      <Txt x={500} y={1451} size={22}>L–Shell [R<Sub>S</Sub>]</Txt>
    </div>
  );
}
